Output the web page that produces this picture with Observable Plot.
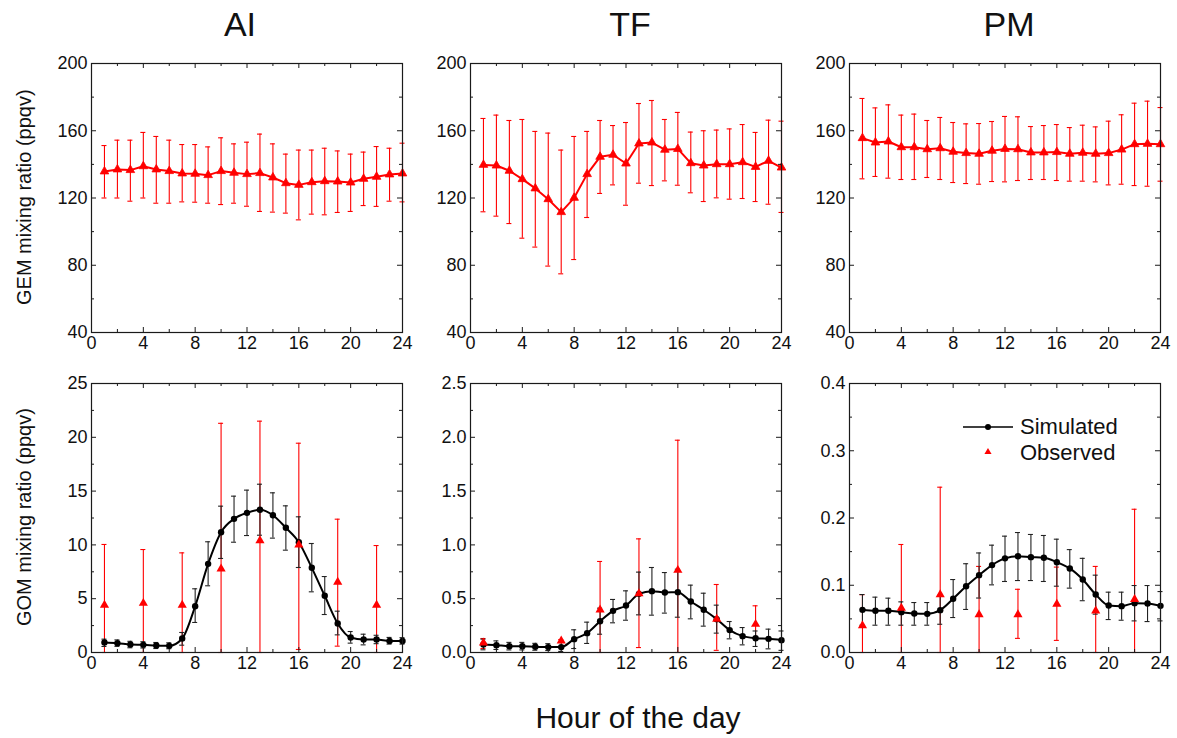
<!DOCTYPE html>
<html><head><meta charset="utf-8">
<script src="https://cdn.jsdelivr.net/npm/d3@7"></script>
<script src="https://cdn.jsdelivr.net/npm/@observablehq/plot@0.6"></script>
<style>
body{margin:0;background:#fff;}
#wrap{position:relative;width:1177px;height:738px;font-family:"Liberation Sans",Arial,sans-serif;overflow:hidden;background:#fff;color:#111;}
.abs{position:absolute;white-space:nowrap;}
.ptitle{font-size:34px;transform:translateX(-50%);top:4px;line-height:40px;}
.ytitle{font-size:20px;transform-origin:0 0;}
</style></head><body><div id="wrap"></div>
<script>
// ---- data ----
const hours = d3.range(1, 25);
const obsHoursA = [1, 4, 7, 10, 13, 16, 19, 22];
const obsHoursTF = [1, 7, 10, 13, 16, 19, 22];

const AI_GEM    = [135.8,137.0,136.6,138.9,137.0,136.0,134.6,134.4,133.6,136.0,135.0,134.2,134.8,132.2,128.8,127.8,129.4,130.0,129.8,129.2,131.4,132.6,134.0,134.6];
const AI_GEM_hi = [151.2,154.4,154.4,159.0,156.6,154.4,151.8,151.8,150.4,155.8,152.2,153.2,158.0,152.2,146.1,148.5,148.5,149.6,148.0,146.1,147.3,150.6,149.6,152.6];
const AI_GEM_lo = [120.0,120.0,118.1,120.0,116.9,116.9,117.7,117.5,116.9,116.1,116.9,115.1,112.0,111.6,111.0,107.0,110.4,110.0,111.4,112.0,115.5,115.0,118.1,117.7];

const TF_GEM    = [139.7,139.3,136.2,131.2,125.7,119.3,111.6,120.1,134.2,144.5,145.7,140.5,152.4,153.0,148.7,149.2,140.7,139.3,140.1,140.1,141.3,138.5,142.1,138.1];
const TF_GEM_hi = [167.3,169.3,166.1,166.7,159.6,158.6,148.5,156.6,159.6,166.1,163.1,164.9,176.2,178.0,166.7,170.9,159.2,160.0,160.4,161.1,163.7,159.0,166.3,165.7];
const TF_GEM_lo = [111.8,109.2,104.8,96.1,90.8,79.5,74.9,83.4,108.4,122.7,127.8,115.7,128.8,127.4,130.2,127.6,123.1,117.9,120.1,119.3,119.7,117.9,116.3,111.4];

const PM_GEM    = [155.6,153.0,153.6,150.2,150.2,149.0,149.6,147.5,146.7,146.3,148.1,149.2,149.0,147.1,147.1,147.3,146.3,146.9,146.3,146.7,148.8,152.0,152.2,152.0];
const PM_GEM_hi = [179.2,173.6,175.4,169.3,169.9,166.1,167.9,164.9,164.1,164.3,165.5,168.5,168.3,162.5,163.1,163.7,161.9,163.3,162.3,165.7,169.5,176.4,177.6,173.8];
const PM_GEM_lo = [131.4,132.8,131.8,131.0,131.0,132.2,131.0,129.2,128.6,128.2,129.8,129.6,130.4,131.0,131.0,130.4,130.0,130.0,129.6,127.8,128.2,127.4,127.0,130.0];

const AI_SIM    = [0.93,0.87,0.74,0.71,0.65,0.62,1.3,4.3,8.24,11.18,12.42,12.98,13.26,12.76,11.59,10.25,7.87,5.27,2.7,1.39,1.21,1.21,1.08,1.08];
const AI_SIM_hi = [1.24,1.17,1.04,1.0,0.93,0.9,1.86,5.92,10.29,13.6,14.53,15.09,15.64,14.84,13.63,12.61,10.13,7.06,3.84,1.95,1.7,1.6,1.4,1.38];
const AI_SIM_lo = [0.56,0.57,0.44,0.42,0.37,0.35,0.68,2.79,6.2,8.74,10.25,10.87,10.9,10.63,9.51,7.9,5.64,3.53,1.64,0.87,0.71,0.82,0.78,0.78];
const AI_OBS    = [4.4,4.58,4.4,7.78,10.41,10.0,6.54,4.4];
const AI_OBS_hi = [10.04,9.57,9.26,21.3,21.5,19.45,12.39,9.94];
const AI_OBS_lo = [0,0,0,0,0,0.28,0.59,0];

const TF_SIM    = [0.074,0.068,0.059,0.059,0.053,0.05,0.05,0.124,0.18,0.291,0.387,0.437,0.545,0.57,0.558,0.561,0.474,0.397,0.31,0.208,0.152,0.133,0.127,0.115];
const TF_SIM_hi = [0.124,0.108,0.094,0.094,0.085,0.082,0.093,0.211,0.282,0.412,0.493,0.573,0.747,0.79,0.743,0.774,0.626,0.551,0.44,0.288,0.232,0.2,0.217,0.2];
const TF_SIM_lo = [0.025,0.028,0.024,0.024,0.021,0.018,0.01,0.037,0.084,0.17,0.276,0.3,0.35,0.347,0.366,0.328,0.313,0.245,0.18,0.127,0.071,0.056,0.034,0.02];
const TF_OBS    = [0.09,0.108,0.397,0.548,0.765,0.31,0.263];
const TF_OBS_hi = [0.13,0.12,0.846,1.056,1.973,0.632,0.434];
const TF_OBS_lo = [0.037,0.1,0,0.046,0,0.02,0.13];

const PM_SIM    = [0.0634,0.062,0.062,0.06,0.058,0.0575,0.063,0.080,0.0986,0.115,0.130,0.140,0.1432,0.1418,0.1408,0.1343,0.125,0.1085,0.0862,0.0699,0.0689,0.0734,0.0729,0.0694];
const PM_SIM_hi = [0.0862,0.0823,0.0808,0.0753,0.0743,0.0743,0.085,0.1085,0.132,0.148,0.1596,0.173,0.1784,0.1755,0.174,0.1685,0.153,0.140,0.115,0.0897,0.0897,0.0996,0.0996,0.0906];
const PM_SIM_lo = [0.0406,0.0406,0.0406,0.0406,0.0406,0.0406,0.042,0.052,0.064,0.081,0.1006,0.1056,0.107,0.107,0.1056,0.0986,0.0957,0.077,0.057,0.049,0.048,0.047,0.046,0.047];
const PM_OBS    = [0.040,0.066,0.0862,0.0565,0.0565,0.0719,0.062,0.079];
const PM_OBS_hi = [0.086,0.1606,0.2458,0.128,0.094,0.127,0.128,0.213];
const PM_OBS_lo = [0,0,0,0,0.021,0.018,0,0];

const sites = ["AI", "TF", "PM"];
const xMajor = [0, 4, 8, 12, 16, 20, 24];
const xMinor = [2, 6, 10, 14, 18, 22];
const gemMajor = [40, 80, 120, 160, 200];
const gemMinor = [60, 100, 140, 180];
const aiGomMajor = [0, 5, 10, 15, 20, 25];
const aiGomMinor = [2.5, 7.5, 12.5, 17.5, 22.5];
const tfGomMajor = [0, 0.5, 1.0, 1.5, 2.0, 2.5];
const tfGomMinor = [0.25, 0.75, 1.25, 1.75, 2.25];
const pmGomMajor = [0, 0.1, 0.2, 0.3, 0.4];
const pmGomMinor = [0.05, 0.15, 0.25, 0.35];

const table = (hs, v, hi, lo) => hs.map((h, i) => ({h, v: v[i], hi: hi[i], lo: lo[i]}));

// ---- layout ----
const W = 311, H = 269;
const ML = 50, MR = 12, MT = 10, MB = 32;
const frameLefts = [91, 470, 849];
const frameTops = [62.7, 382.7];
const RED = "#ff0000", INK = "#1a1a1a";

const wrap = document.getElementById("wrap");

function errorBars(rows, color, sw) {
  return [
    Plot.ruleX(rows, {x: "h", y1: "lo", y2: "hi", stroke: color, strokeWidth: sw}),
    Plot.ruleY(rows, {x1: "h", x2: "h", y: "hi", insetLeft: -2.5, insetRight: -2.5, stroke: color, strokeWidth: sw}),
    Plot.ruleY(rows, {x1: "h", x2: "h", y: "lo", insetLeft: -2.5, insetRight: -2.5, stroke: color, strokeWidth: sw})
  ];
}

function panel(col, row, yDomain, yMajor, yMinor, fmt, seriesMarks) {
  const p = Plot.plot({
    width: W + ML + MR,
    height: H + MT + MB,
    marginLeft: ML, marginRight: MR, marginTop: MT, marginBottom: MB,
    x: {domain: [0, 24]},
    y: {domain: yDomain},
    style: {fontSize: "18px", fontFamily: "Liberation Sans, Arial, sans-serif", color: "#111", background: "transparent", overflow: "visible"},
    marks: [
      ...seriesMarks,
      Plot.ruleX(xMajor, {insetTop: H - 5, stroke: INK}),
      Plot.ruleX(xMajor, {insetBottom: H - 5, stroke: INK}),
      Plot.ruleX(xMinor, {insetTop: H - 3, stroke: INK}),
      Plot.ruleX(xMinor, {insetBottom: H - 3, stroke: INK}),
      Plot.ruleY(yMajor, {insetRight: W - 5, stroke: INK}),
      Plot.ruleY(yMajor, {insetLeft: W - 5, stroke: INK}),
      Plot.ruleY(yMinor, {insetRight: W - 3, stroke: INK}),
      Plot.ruleY(yMinor, {insetLeft: W - 3, stroke: INK}),
      Plot.frame({stroke: INK, strokeWidth: 1.2}),
      Plot.axisX({ticks: xMajor, tickSize: 0, tickPadding: 4, label: null, tickFormat: d3.format("d")}),
      Plot.axisY({ticks: yMajor, tickSize: 0, tickPadding: 4, label: null, tickFormat: fmt})
    ]
  });
  p.style.position = "absolute";
  p.style.left = (frameLefts[col] - ML) + "px";
  p.style.top = (frameTops[row] - MT) + "px";
  wrap.appendChild(p);
}

function gemMarks(rows) {
  return [
    ...errorBars(rows, RED, 1.1),
    Plot.line(rows, {x: "h", y: "v", stroke: RED, strokeWidth: 2}),
    Plot.dot(rows, {x: "h", y: "v", symbol: "triangle", r: 3.2, fill: RED, stroke: RED, strokeWidth: 0.8})
  ];
}
function gomMarks(sim, obs) {
  return [
    ...errorBars(obs, RED, 1.1),
    ...errorBars(sim, "#222", 1.1),
    Plot.line(sim, {x: "h", y: "v", stroke: "#000", strokeWidth: 2, curve: "monotone-x"}),
    Plot.dot(sim, {x: "h", y: "v", r: 3.2, fill: "#000"}),
    Plot.dot(obs, {x: "h", y: "v", symbol: "triangle", r: 3.4, fill: RED})
  ];
}

panel(0, 0, [40, 200], gemMajor, gemMinor, d3.format("d"), gemMarks(table(hours, AI_GEM, AI_GEM_hi, AI_GEM_lo)));
panel(1, 0, [40, 200], gemMajor, gemMinor, d3.format("d"), gemMarks(table(hours, TF_GEM, TF_GEM_hi, TF_GEM_lo)));
panel(2, 0, [40, 200], gemMajor, gemMinor, d3.format("d"), gemMarks(table(hours, PM_GEM, PM_GEM_hi, PM_GEM_lo)));

panel(0, 1, [0, 25], aiGomMajor, aiGomMinor, d3.format("d"),
  gomMarks(table(hours, AI_SIM, AI_SIM_hi, AI_SIM_lo), table(obsHoursA, AI_OBS, AI_OBS_hi, AI_OBS_lo)));
panel(1, 1, [0, 2.5], tfGomMajor, tfGomMinor, d3.format(".1f"),
  gomMarks(table(hours, TF_SIM, TF_SIM_hi, TF_SIM_lo), table(obsHoursTF, TF_OBS, TF_OBS_hi, TF_OBS_lo)));
panel(2, 1, [0, 0.4], pmGomMajor, pmGomMinor, d3.format(".1f"),
  gomMarks(table(hours, PM_SIM, PM_SIM_hi, PM_SIM_lo), table(obsHoursA, PM_OBS, PM_OBS_hi, PM_OBS_lo)));

// ---- titles ----
const titleX = [240, 630, 1009];
sites.forEach((s, i) => {
  const d = document.createElement("div");
  d.className = "abs ptitle";
  d.style.left = titleX[i] + "px";
  d.textContent = s;
  wrap.appendChild(d);
});

function ytitle(text, cy) {
  const d = document.createElement("div");
  d.className = "abs ytitle";
  d.textContent = text;
  wrap.appendChild(d);
  const w = d.getBoundingClientRect().width;
  d.style.left = "13px";
  d.style.top = (cy + w / 2) + "px";
  d.style.transform = "rotate(-90deg)";
}
ytitle("GEM mixing ratio (ppqv)", 197);
ytitle("GOM mixing ratio (ppqv)", 517);

const xt = document.createElement("div");
xt.className = "abs";
xt.style.cssText = "font-size:30px;left:638px;top:700px;transform:translateX(-50%);line-height:36px;";
xt.textContent = "Hour of the day";
wrap.appendChild(xt);

// ---- legend (inside PM GOM panel) ----
const lg = document.createElementNS("http://www.w3.org/2000/svg", "svg");
lg.setAttribute("width", 200); lg.setAttribute("height", 60);
lg.style.cssText = "position:absolute;left:955px;top:410px;overflow:visible;";
lg.innerHTML = `
  <line x1="8" y1="17" x2="58" y2="17" stroke="#000" stroke-width="1.6"/>
  <circle cx="33" cy="17" r="3" fill="#000"/>
  <path d="${d3.symbol(d3.symbolTriangle, 22)()}" transform="translate(33,42)" fill="${RED}"/>
  <text x="65" y="24" font-size="22" font-family="Liberation Sans, Arial, sans-serif" fill="#111">Simulated</text>
  <text x="65" y="50" font-size="22" font-family="Liberation Sans, Arial, sans-serif" fill="#111">Observed</text>`;
wrap.appendChild(lg);
</script>
</body></html>
